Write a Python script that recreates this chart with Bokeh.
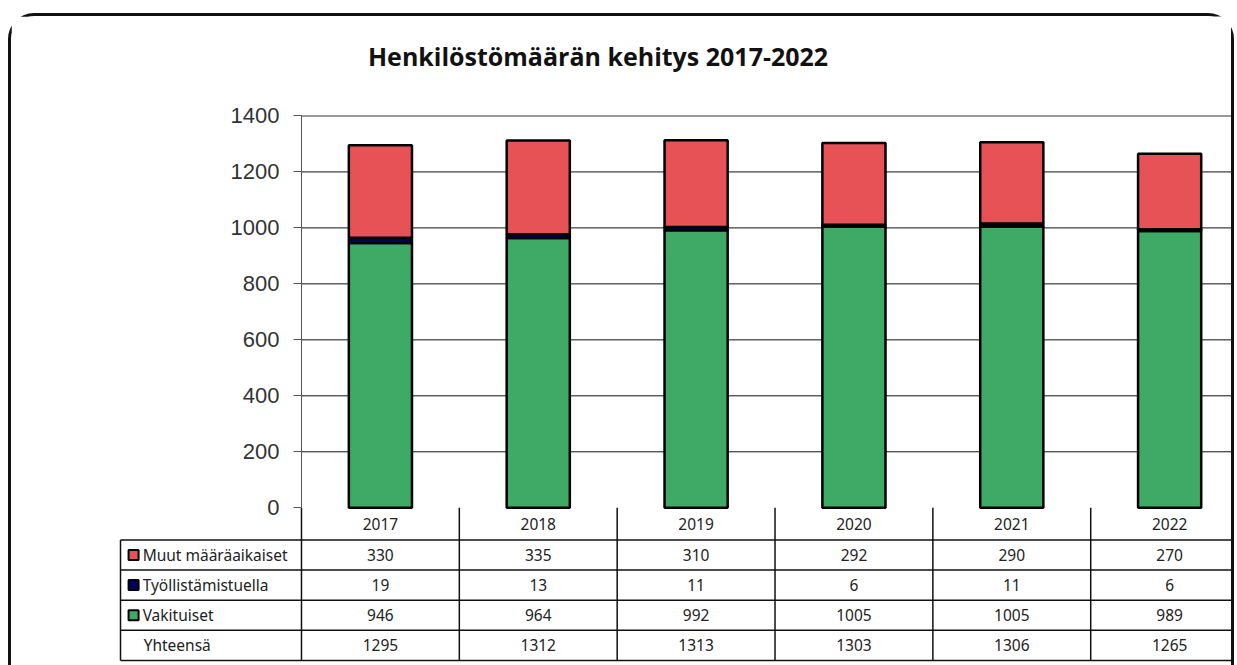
from bokeh.plotting import figure
from bokeh.models import ColumnDataSource, FixedTicker
from bokeh.core.properties import value
from bokeh.embed import file_html
from bokeh.resources import INLINE

# ---------------- data ----------------
title_text = "Henkilöstömäärän kehitys 2017-2022"
years = ["2017", "2018", "2019", "2020", "2021", "2022"]
muut = [330, 335, 310, 292, 290, 270]          # Muut määräaikaiset
tyoll = [19, 13, 11, 6, 11, 6]                 # Työllistämistuella
vakit = [946, 964, 992, 1005, 1005, 989]       # Vakituiset
yhteensa = [1295, 1312, 1313, 1303, 1306, 1265]
series_names = ["Muut määräaikaiset", "Työllistämistuella", "Vakituiset"]
total_name = "Yhteensä"
y_ticks = [0, 200, 400, 600, 800, 1000, 1200, 1400]

# ---------------- style / layout ----------------
RED = "#E65256"
NAVY = "#00005E"
GREEN = "#3FAA66"
FONT = "Noto Sans"

W, H = 1226, 652            # element size (border-box)
CW, CH = W - 6, H - 3       # canvas size
U = 1400 / 390.0            # data units per pixel (vertical)
COL = 157.0                 # pixels per category column
frame_left = 107            # canvas px
x0_canvas = 289             # canvas px of x = 0
x_start = -(x0_canvas - frame_left) / COL
x_end = (CW - x0_canvas) / COL
TOP_PX = 99                 # px from canvas top to the 1400 line
BOTTOM_PX = CH - TOP_PX - 390
y_end = 1400 + TOP_PX * U
y_start = -BOTTOM_PX * U

p = figure(width=W, height=H, output_backend="svg", toolbar_location=None, title=None,
           x_range=(x_start, x_end), y_range=(y_start, y_end),
           min_border_left=frame_left, min_border_right=0,
           min_border_top=0, min_border_bottom=0)
p.styles = {"border": "3px solid #111", "border-bottom": "none",
            "border-top-left-radius": "26px", "border-top-right-radius": "26px",
            "margin-left": "8px", "margin-top": "13px"}
p.outline_line_color = None
p.xgrid.visible = False
p.ygrid.visible = False
p.xaxis.visible = False
p.background_fill_color = "white"
p.border_fill_color = "white"

# title (as text in the chart area above the plot)
p.text(x=[(595 - 300) / COL], y=[1400 + 60 * U], text=[title_text],
       text_align="center", text_baseline="middle",
       text_font=value("Open Sans"), text_font_style="bold",
       text_font_size="25px", text_color="#111")

# y axis
ax = p.yaxis[0]
ax.ticker = FixedTicker(ticks=y_ticks)
ax.bounds = (0, 1400)
ax.fixed_location = 0
ax.axis_line_color = "#555"
ax.major_tick_line_color = "#555"
ax.major_tick_out = 8
ax.major_tick_in = 0
ax.minor_tick_line_color = None
ax.major_label_standoff = 14
ax.major_label_text_font = "Liberation Sans"
ax.major_label_text_font_size = "22px"
ax.major_label_text_color = "#333"

n = len(years)
xc = [i + 0.5 for i in range(n)]

# grid lines
gy = [t for t in y_ticks if 0 < t < 1400]
p.segment(x0=[0] * len(gy), x1=[n] * len(gy), y0=gy, y1=gy, line_color="#111", line_width=1)
p.segment(x0=[0], x1=[n], y0=[1400], y1=[1400], line_color="#999", line_width=2)

# bars
src = ColumnDataSource(dict(x=xc, vakit=vakit, tyoll=tyoll, muut=muut))
p.vbar_stack(["vakit", "tyoll", "muut"], x="x", width=0.4, source=src,
             fill_color=[GREEN, NAVY, RED], line_color="black", line_width=2.5)

# ---------------- data table ----------------
ROW0 = 32      # header height px
ROW = 30       # row height px
label_left = (120 - 300) / COL
row_bounds = [-(ROW0 + ROW * k) * U for k in range(5)]
table_bottom = row_bounds[-1]

p.segment(x0=[label_left] * 5, x1=[n] * 5, y0=row_bounds, y1=row_bounds,
          line_color="#111", line_width=1.5)
p.segment(x0=[label_left], x1=[label_left], y0=[row_bounds[0]], y1=[table_bottom],
          line_color="#111", line_width=1.5)
vx = list(range(n))
p.segment(x0=vx, x1=vx, y0=[0] * n, y1=[table_bottom] * n, line_color="#111", line_width=1.5)

text_kw = dict(text_font=value(FONT), text_font_size="15.5px", text_color="#222",
               text_baseline="middle")
p.text(x=xc, y=[-ROW0 / 2 * U] * n, text=years, text_align="center", **text_kw)

rows = [muut, tyoll, vakit, yhteensa]
for k, vals in enumerate(rows):
    yc = -(ROW0 + ROW * k + ROW / 2) * U
    p.text(x=xc, y=[yc] * n, text=[str(v) for v in vals], text_align="center", **text_kw)

colors = [RED, NAVY, GREEN]
sw_x = (133 - 300) / COL
for k, name in enumerate(series_names):
    yc = -(ROW0 + ROW * k + ROW / 2) * U
    p.rect(x=[sw_x], y=[yc], width=10, height=10, width_units="screen", height_units="screen",
           fill_color=colors[k], line_color="black", line_width=2)
    p.text(x=[(142 - 300) / COL], y=[yc], text=[name], text_align="left", **text_kw)
yc = -(ROW0 + ROW * 3 + ROW / 2) * U
p.text(x=[(143 - 300) / COL], y=[yc], text=[total_name], text_align="left", **text_kw)

open("out.html", "w").write(file_html(p, INLINE))
